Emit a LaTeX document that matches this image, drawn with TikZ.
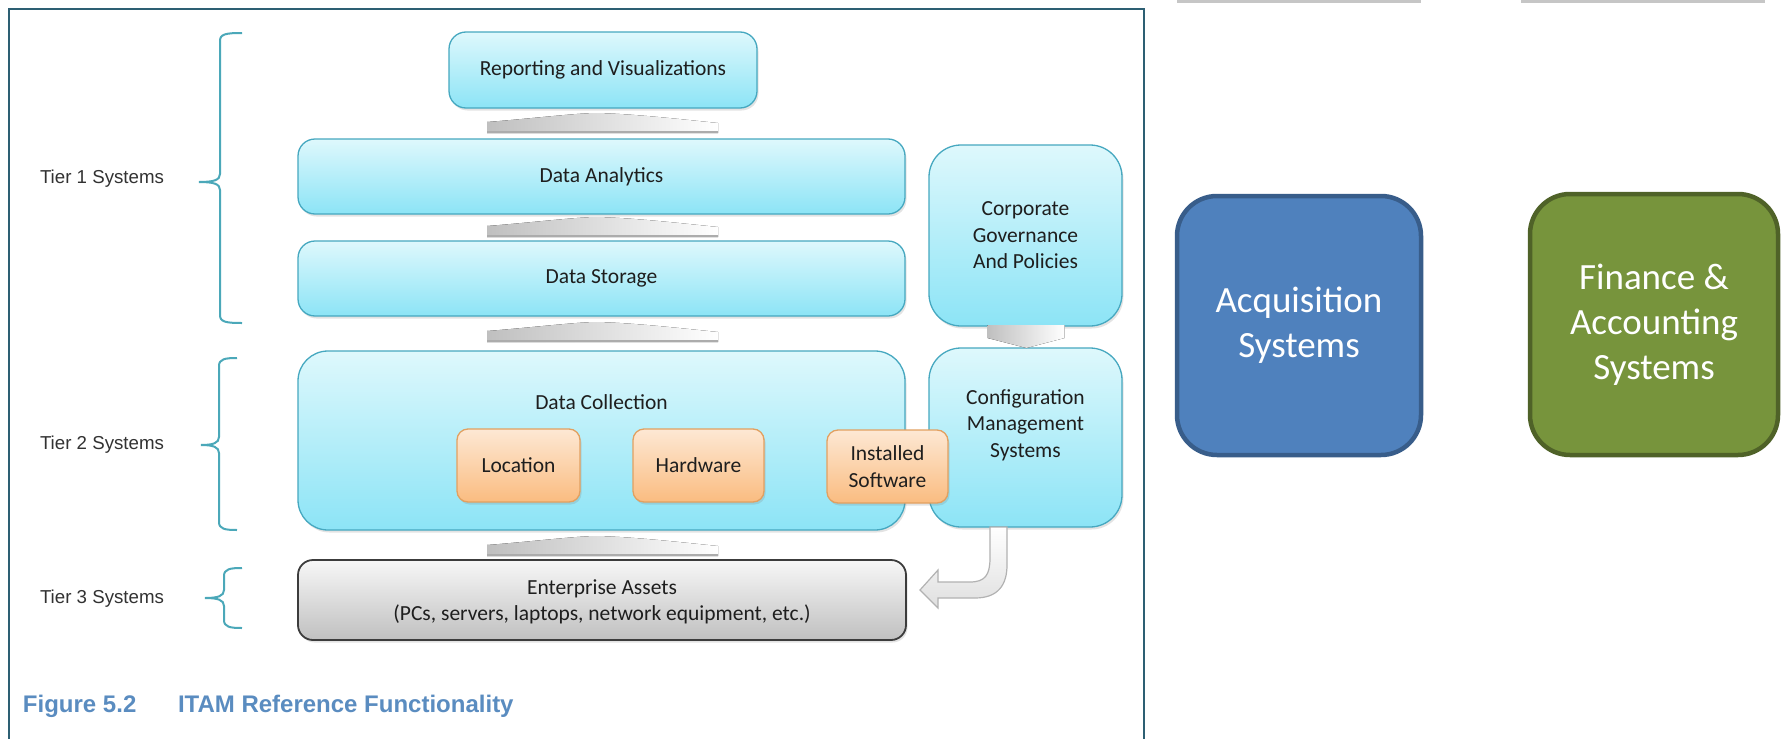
\documentclass[tikz,border=0pt]{standalone}
\usepackage{fontspec}
\setmainfont{Carlito}
\newfontfamily\arialfont{Liberation Sans}
\usetikzlibrary{shadows,calc}

\definecolor{cyanTop}{RGB}{222,248,252}
\definecolor{cyanBot}{RGB}{140,228,246}
\definecolor{cyanLine}{RGB}{70,168,192}
\definecolor{orgTop}{RGB}{253,232,212}
\definecolor{orgBot}{RGB}{250,188,128}
\definecolor{orgLine}{RGB}{226,160,96}
\definecolor{astTop}{RGB}{247,247,247}
\definecolor{astBot}{RGB}{192,192,192}
\definecolor{astLine}{RGB}{60,60,60}
\definecolor{acqFill}{RGB}{79,129,189}
\definecolor{acqLine}{RGB}{56,93,138}
\definecolor{finFill}{RGB}{119,148,60}
\definecolor{finLine}{RGB}{79,98,40}
\definecolor{frameCol}{RGB}{45,95,115}
\definecolor{braceCol}{RGB}{75,168,185}
\definecolor{capCol}{RGB}{90,140,192}
\definecolor{tierText}{RGB}{50,50,50}
\definecolor{boxText}{RGB}{30,30,30}

\newcommand\lyrfont{\fontsize{21.5}{26.5}\selectfont}
\newcommand\bigboxfont{\fontsize{37}{45}\selectfont}
\newcommand\tierfont{\arialfont\fontsize{18.7}{22}\selectfont}
\newcommand\capfont{\arialfont\bfseries\fontsize{24}{28}\selectfont}

% curly bracket: vertical x, top y, tick y, bottom y, tick tip x, hook end x
\newcommand\tierbrace[6]{%
  \draw[bracestyle] (#6,#2) .. controls ({#1+6},#2) and (#1,{#2+1}) .. (#1,{#2+8})
    -- (#1,{#3-8}) .. controls (#1,{#3-2}) and ({#1-6},#3) .. (#5,#3)
    .. controls ({#1-6},#3) and (#1,{#3+2}) .. (#1,{#3+8})
    -- (#1,{#4-8}) .. controls (#1,{#4-1}) and ({#1+6},#4) .. (#6,#4);}

\begin{document}
\begin{tikzpicture}[x=1pt,y=-1pt,
  every node/.style={inner sep=0pt, outer sep=0pt},
  softshadow/.style={drop shadow={opacity=0.22, shadow xshift=1.5pt, shadow yshift=-2.5pt}},
  layerbox/.style={draw=cyanLine, line width=1.3pt, top color=cyanTop, bottom color=cyanBot,
    softshadow, text=boxText, font=\lyrfont, align=center},
  itembox/.style={draw=orgLine, line width=1.3pt, top color=orgTop, bottom color=orgBot,
    rounded corners=11pt, softshadow, text=boxText, font=\lyrfont, align=center},
  assetbox/.style={draw=astLine, line width=1.8pt, top color=astTop, bottom color=astBot,
    rounded corners=15pt, softshadow, text=boxText, font=\lyrfont, align=center},
  sysbox/.style={line width=4.5pt, rounded corners=40pt, text=white, font=\bigboxfont, align=center},
  bracestyle/.style={draw=braceCol, line width=2pt},
  tierlabel/.style={anchor=west, text=tierText, font=\tierfont},
  lyrtext/.style={text=boxText, font=\lyrfont, align=center},
  flowwedge/.pic={
    \fill[left color=gray!50, right color=white] (0,0) -- (0,-11)
      .. controls (40,-14) and (90,-20) .. (110,-20)
      .. controls (150,-19) and (200,-13) .. (231,-10) -- (231,0) -- cycle;
    \draw[gray!65, line width=1.5pt] (0,-1) -- (231,-1);
  }
]
\useasboundingbox (0,0) rectangle (1781,739);
\fill[white] (0,0) rectangle (1781,739);

% outer frame of the figure
\draw[frameCol, line width=2.5pt] (9,739) -- (9,9) -- (1144,9) -- (1144,739);

% edges of boxes above the top
\draw[gray!45, line width=3pt] (1177,1) -- (1421,1);
\draw[gray!45, line width=3pt] (1521,1) -- (1765,1);

% tier brackets and labels
\tierbrace{220}{33}{182}{323}{199}{242}
\tierbrace{219}{358}{445}{530}{201}{237}
\tierbrace{224}{568}{598}{628}{205}{242}
\node[tierlabel] (t1) at (40,179) {Tier 1 Systems};
\node[tierlabel] (t2) at (40,445) {Tier 2 Systems};
\node[tierlabel] (t3) at (40,599) {Tier 3 Systems};

% layered boxes
\node[layerbox, rounded corners=17pt, minimum width=308pt, minimum height=76pt] (rep) at (603,70) {Reporting and Visualizations};
\node[layerbox, rounded corners=17pt, minimum width=607pt, minimum height=75pt] (ana) at (601.5,176.5) {Data Analytics};
\node[layerbox, rounded corners=17pt, minimum width=607pt, minimum height=75pt] (sto) at (601.5,278.5) {Data Storage};
\node[layerbox, rounded corners=30pt, minimum width=607pt, minimum height=179pt] (col) at (601.5,440.5) {};
\node[lyrtext] (colt) at (601.5,402) {Data Collection};
\node[layerbox, rounded corners=32pt, minimum width=193pt, minimum height=181pt] (gov) at (1025.5,235.5) {Corporate\\Governance\\And Policies};
\node[layerbox, rounded corners=32pt, minimum width=193pt, minimum height=179pt] (cfg) at (1025.5,437.5) {};
\node[lyrtext] (cfgt) at (1025.5,425) {Configuration\\Management\\Systems};

% collected items
\node[itembox, minimum width=123pt, minimum height=73pt] (loc) at (518.5,465.5) {Location};
\node[itembox, minimum width=131pt, minimum height=73pt] (hw) at (698.5,465.5) {Hardware};
\node[itembox, minimum width=121pt, minimum height=73pt] (sw) at (887.5,466.5) {Installed\\Software};

% enterprise assets
\node[assetbox, minimum width=608pt, minimum height=80pt] (ast) at (602,600) {};
\node[lyrtext] (astt) at (602,602) {\fontsize{21.5}{28.5}\selectfont Enterprise Assets\\(PCs, servers, laptops, network equipment, etc.)};

% flow wedges between the layers
\pic at (487,133) {flowwedge};
\pic at (487,237) {flowwedge};
\pic at (487,342) {flowwedge};
\pic at (487,556) {flowwedge};

% governance feeds configuration management
\fill[left color=gray!50, right color=white]
  ($(gov.south)+(-38,-1)$) -- ($(gov.south)+(-38,12)$) -- ($(cfg.north)+(1,0)$)
  -- ($(gov.south)+(39,12)$) -- ($(gov.south)+(39,-1)$) -- cycle;

% configuration management updates the assets
\draw[gray!60, line width=1.2pt, top color=white, bottom color=gray!25]
  ($(cfg.south)+(-35.5,0)$) -- (990,558) .. controls (990,575) and (985,582) .. (970,582)
  -- (938,582) -- (938,570) -- ($(ast.east)+(14,-10)$) -- (938,608) -- (938,598) -- (975,598)
  .. controls (998,598) and (1007,585) .. (1007,565) -- ($(cfg.south)+(-18.5,0)$) -- cycle;

% caption
\node[anchor=base west, text=capCol, font=\capfont] (capn) at (23,712) {Figure 5.2};
\node[anchor=base west, text=capCol, font=\capfont] (capt) at (178,712) {ITAM Reference Functionality};

% external systems
\node[sysbox, draw=acqLine, fill=acqFill, minimum width=244pt, minimum height=259pt] (acq) at (1299,325.5) {Acquisition\\Systems};
\node[sysbox, draw=finLine, fill=finFill, minimum width=248pt, minimum height=261pt] (fin) at (1654,324.5) {Finance \&\\Accounting\\Systems};
\end{tikzpicture}
\end{document}
